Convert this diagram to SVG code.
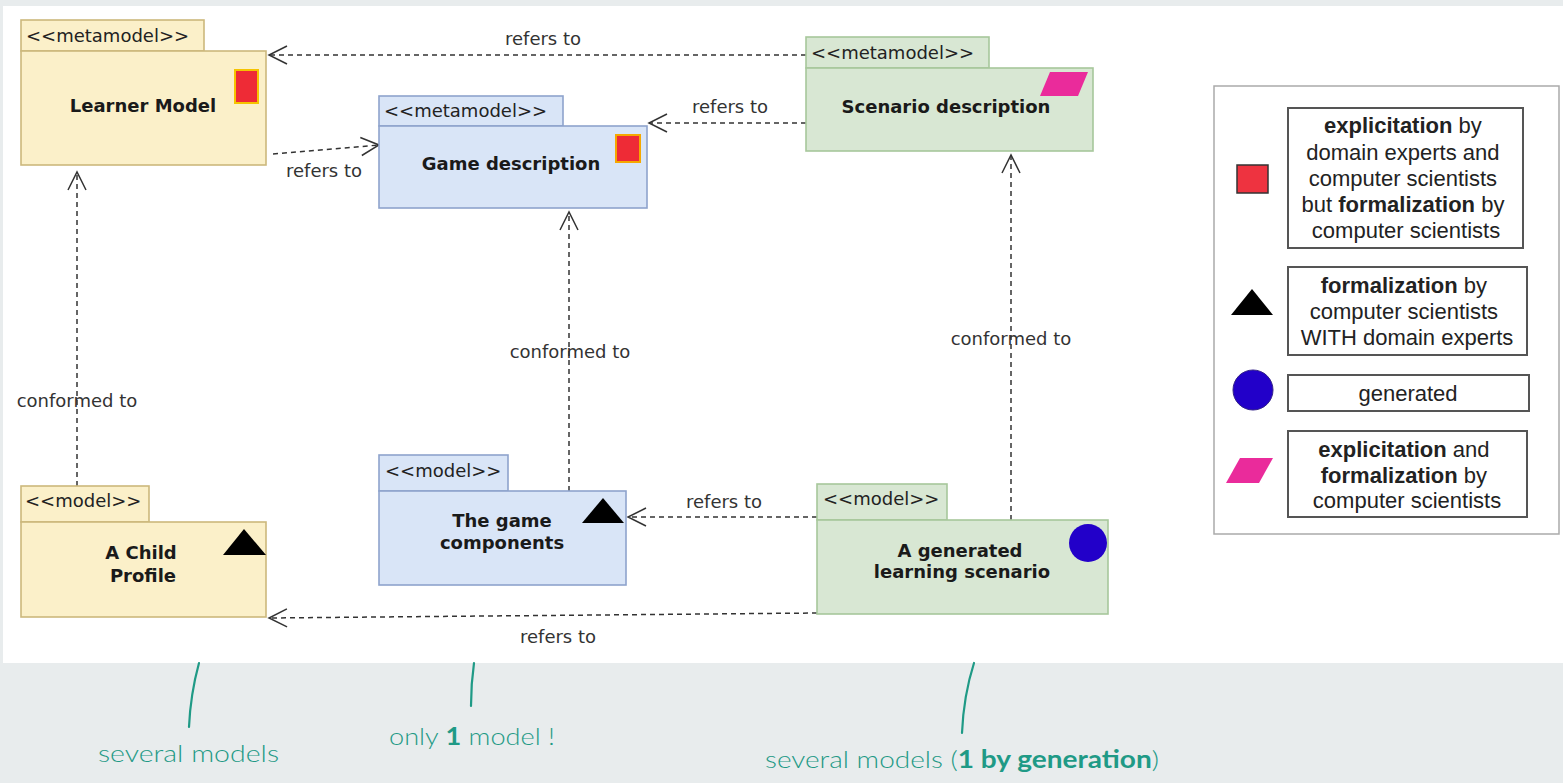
<svg xmlns="http://www.w3.org/2000/svg" width="1563" height="783" viewBox="0 0 1563 783">
  <defs>
    <style>
      .stereo { font-family: "DejaVu Sans", Verdana, sans-serif; font-size: 18px; fill: #222; }
      .title { font-family: "DejaVu Sans", Verdana, sans-serif; font-size: 18px; font-weight: bold; fill: #1a1a1a; text-anchor: middle; }
      .lbl { font-family: "DejaVu Sans", Verdana, sans-serif; font-size: 18px; fill: #333; text-anchor: middle; }
      .yellow { fill: #fbf0c9; stroke: #ccb87c; stroke-width: 1.6; }
      .blue { fill: #d9e5f7; stroke: #8ea3cc; stroke-width: 1.6; }
      .green { fill: #d8e7d3; stroke: #a7c79b; stroke-width: 1.6; }
      .dash { fill: none; stroke: #333; stroke-width: 1.5; stroke-dasharray: 5 4; marker-end: url(#open); }
      .legend-box { fill: #fff; stroke: #555; stroke-width: 2; }
      .legend-txt { font-family: "Liberation Sans", Arial, sans-serif; font-size: 22px; fill: #222; text-anchor: middle; }
      .legend-txt tspan.b { font-weight: bold; }
      .note { font-family: "Lato", "Open Sans", sans-serif; font-weight: 300; font-size: 24px; fill: #1f9a86; }
      .note-line { fill: none; stroke: #1f9a86; stroke-width: 2.2; stroke-linecap: round; }
    </style>
    <marker id="open" viewBox="-20 -11 22 22" markerWidth="22" markerHeight="22" refX="0" refY="0" orient="auto" markerUnits="userSpaceOnUse">
      <path d="M-18,-9 L0,0 L-18,9" fill="none" stroke="#333" stroke-width="1.5" stroke-dasharray="none"/>
    </marker>
  </defs>

  <!-- page background and white sheet -->
  <rect x="0" y="0" width="1563" height="783" fill="#e8eced"/>
  <rect x="3" y="6" width="1560" height="657" fill="#ffffff"/>

  <!-- connectors -->
  <g id="connectors">
    <line class="dash" x1="806" y1="55" x2="269" y2="55"/>
    <text class="lbl" x="543" y="45">refers to</text>

    <line class="dash" x1="806" y1="123" x2="649" y2="123"/>
    <text class="lbl" x="730" y="113">refers to</text>

    <line class="dash" x1="273" y1="154" x2="379" y2="145"/>
    <text class="lbl" x="324" y="177">refers to</text>

    <line class="dash" x1="77" y1="486" x2="77" y2="172"/>
    <text class="lbl" x="77" y="407">conformed to</text>

    <line class="dash" x1="569" y1="491" x2="569" y2="212"/>
    <text class="lbl" x="570" y="358">conformed to</text>

    <line class="dash" x1="1011" y1="520" x2="1011" y2="155"/>
    <text class="lbl" x="1011" y="345">conformed to</text>

    <line class="dash" x1="817" y1="517" x2="628" y2="517"/>
    <text class="lbl" x="724" y="508">refers to</text>

    <line class="dash" x1="817" y1="613" x2="269" y2="618"/>
    <text class="lbl" x="558" y="643">refers to</text>
  </g>

  <!-- metamodel: Learner Model -->
  <g id="learner-model">
    <rect class="yellow" x="21" y="20" width="183" height="31"/>
    <rect class="yellow" x="21" y="51" width="245" height="114"/>
    <text class="stereo" x="26" y="42">&lt;&lt;metamodel&gt;&gt;</text>
    <text class="title" x="143" y="112">Learner Model</text>
    <rect x="235" y="70" width="23" height="33" fill="#ee2b36" stroke="#f5c400" stroke-width="2"/>
  </g>

  <!-- metamodel: Game description -->
  <g id="game-description">
    <rect class="blue" x="379" y="96" width="184" height="30"/>
    <rect class="blue" x="379" y="126" width="268" height="82"/>
    <text class="stereo" x="384" y="117">&lt;&lt;metamodel&gt;&gt;</text>
    <text class="title" x="511" y="170">Game description</text>
    <rect x="616" y="135" width="24" height="27" fill="#ee2b36" stroke="#f5a800" stroke-width="2"/>
  </g>

  <!-- metamodel: Scenario description -->
  <g id="scenario-description">
    <rect class="green" x="806" y="37" width="183" height="31"/>
    <rect class="green" x="806" y="68" width="287" height="83"/>
    <text class="stereo" x="811" y="59">&lt;&lt;metamodel&gt;&gt;</text>
    <text class="title" x="946" y="113">Scenario description</text>
    <polygon points="1050,72 1088,72 1078,96 1040,96" fill="#ea2b9b"/>
  </g>

  <!-- model: A Child Profile -->
  <g id="child-profile">
    <rect class="yellow" x="21" y="486" width="128" height="36"/>
    <rect class="yellow" x="21" y="522" width="245" height="95"/>
    <text class="stereo" x="25" y="507">&lt;&lt;model&gt;&gt;</text>
    <text class="title" x="141" y="559">A Child</text>
    <text class="title" x="143" y="582">Profile</text>
    <polygon points="244,529 266,555 223,555" fill="#000"/>
  </g>

  <!-- model: The game components -->
  <g id="game-components">
    <rect class="blue" x="379" y="455" width="129" height="36"/>
    <rect class="blue" x="379" y="491" width="247" height="94"/>
    <text class="stereo" x="385" y="477">&lt;&lt;model&gt;&gt;</text>
    <text class="title" x="502" y="527">The game</text>
    <text class="title" x="502" y="549">components</text>
    <polygon points="603,498 624,523 582,523" fill="#000"/>
  </g>

  <!-- model: A generated learning scenario -->
  <g id="generated-scenario">
    <rect class="green" x="817" y="484" width="130" height="36"/>
    <rect class="green" x="817" y="520" width="291" height="94"/>
    <text class="stereo" x="823" y="505">&lt;&lt;model&gt;&gt;</text>
    <text class="title" x="960" y="557">A generated</text>
    <text class="title" x="962" y="578">learning scenario</text>
    <circle cx="1088" cy="543" r="19" fill="#2200c9"/>
  </g>

  <!-- legend -->
  <g id="legend">
    <rect x="1214" y="86" width="345" height="448" fill="#fff" stroke="#aaa" stroke-width="1.5"/>

    <rect x="1237" y="165" width="31" height="28" fill="#ee3340" stroke="#333" stroke-width="1.5"/>
    <rect class="legend-box" x="1288" y="108" width="235" height="140"/>
    <text class="legend-txt">
      <tspan x="1406" y="133"><tspan class="b">explicitation</tspan> by</tspan>
      <tspan x="1406" y="160">domain experts and</tspan>
      <tspan x="1406" y="186">computer scientists</tspan>
      <tspan x="1406" y="212">but <tspan class="b">formalization</tspan> by</tspan>
      <tspan x="1406" y="238">computer scientists</tspan>
    </text>

    <polygon points="1252,289 1273,315 1231,315" fill="#000"/>
    <rect class="legend-box" x="1288" y="267" width="239" height="88"/>
    <text class="legend-txt">
      <tspan x="1407" y="293"><tspan class="b">formalization</tspan> by</tspan>
      <tspan x="1407" y="319">computer scientists</tspan>
      <tspan x="1407" y="345">WITH domain experts</tspan>
    </text>

    <circle cx="1253" cy="390" r="20" fill="#2200c9" stroke="#332288" stroke-width="1"/>
    <rect class="legend-box" x="1288" y="375" width="241" height="36"/>
    <text class="legend-txt" x="1408" y="401">generated</text>

    <polygon points="1240,458 1273,458 1259,483 1226,483" fill="#ea2b9b"/>
    <rect class="legend-box" x="1288" y="431" width="239" height="86"/>
    <text class="legend-txt">
      <tspan x="1407" y="457"><tspan class="b">explicitation</tspan> and</tspan>
      <tspan x="1407" y="483"><tspan class="b">formalization</tspan> by</tspan>
      <tspan x="1407" y="508">computer scientists</tspan>
    </text>
  </g>

  <!-- handwritten annotations below the sheet -->
  <g id="notes">
    <path class="note-line" d="M199,663 C193,685 190,705 189,727"/>
    <text class="note" x="98" y="762" textLength="181" lengthAdjust="spacingAndGlyphs">several models</text>

    <path class="note-line" d="M474,663 C472,677 471,692 471,706"/>
    <text class="note" x="389" y="745" textLength="166" lengthAdjust="spacingAndGlyphs">only <tspan font-weight="bold">1</tspan> model !</text>

    <path class="note-line" d="M974,663 C967,685 963,710 962,733"/>
    <text class="note" x="765" y="768" textLength="394" lengthAdjust="spacingAndGlyphs">several models (<tspan font-weight="bold">1 by generation</tspan>)</text>
  </g>
</svg>
